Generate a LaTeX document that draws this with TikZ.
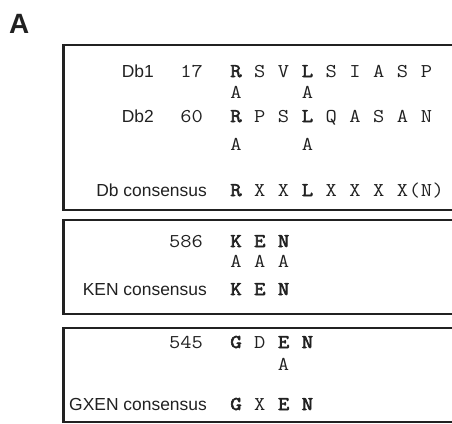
\documentclass[tikz,border=0pt]{standalone}
\usepackage{fontspec}
\setmainfont{Liberation Sans}
\newfontfamily\seqfont{Latin Modern Mono}[FakeStretch=1.12, BoldFont={Latin Modern Mono}, BoldFeatures={FakeBold=3}]
\definecolor{ink}{gray}{0.13}
\begin{document}
\begin{tikzpicture}[x=1bp,y=-1bp,
  lab/.style={font=\fontsize{17.5}{18}\selectfont, text=ink, inner sep=0pt, anchor=base east},
  num/.style={font=\seqfont\fontsize{19.6}{20}\selectfont, text=ink, inner sep=0pt, anchor=base east},
  res/.style={font=\seqfont\fontsize{19.6}{20}\selectfont, text=ink, inner sep=0pt, anchor=base},
  hline/.style={line width=1.8bp, draw=ink},
  vline/.style={line width=2.8bp, draw=ink}]
\useasboundingbox (0,0) rectangle (452,423);
\clip (0,0) rectangle (452,423);

% panel letter
\node[font=\bfseries\fontsize{28}{28}\selectfont, text=ink, inner sep=0pt, anchor=base west] (panel) at (9,33) {A};

% frames (open to the right)
\foreach \t/\b in {45/210, 220/314, 328/422} {
  \draw[hline] (470,\t) -- (63.5,\t);
  \draw[hline] (63.5,\b) -- (470,\b);
  \draw[vline] (63.5,\t-0.9) -- (63.5,\b+0.9);
}

% ---- destruction boxes
\node[lab] (db1) at (154,77) {Db1};
\node[num] (n17) at (203,77) {17};
\foreach \c [count=\k from 0] in {\textbf{R},S,V,\textbf{L},S,I,A,S,P}
  \node[res] (dbA-\k) at ({236+23.8*\k},77) {\c};
\node[res] (dbAm-0) at (236,98) {A};
\node[res] (dbAm-3) at ({236+11.9*6},98) {A};

\node[lab] (db2) at (154,122) {Db2};
\node[num] (n60) at (203,122) {60};
\foreach \c [count=\k from 0] in {\textbf{R},P,S,\textbf{L},Q,A,S,A,N}
  \node[res] (dbB-\k) at ({236+23.8*\k},122) {\c};
\node[res] (dbBm-0) at (236,150) {A};
\node[res] (dbBm-3) at ({236+11.9*6},150) {A};

\node[lab] (dbcons) at (207,196) {Db consensus};
\foreach \c [count=\k from 0] in {\textbf{R},X,X,\textbf{L},X,X,X,X}
  \node[res] (dbC-\k) at ({236+23.8*\k},196) {\c};
\node[res] (dbC-open)  at ({236+11.9*15},196) {(};
\node[res] (dbC-n)     at ({236+11.9*16},196) {N};
\node[res] (dbC-close) at ({236+11.9*17},196) {)};

% ---- KEN box
\node[num] (n586) at (203,247) {586};
\foreach \c [count=\k from 0] in {\textbf{K},\textbf{E},\textbf{N}}
  \node[res] (ken-\k) at ({236+23.8*\k},247) {\c};
\foreach \k in {0,1,2}
  \node[res] (kenm-\k) at ({236+23.8*\k},267) {A};
\node[lab] (kencons) at (207,295) {KEN consensus};
\foreach \c [count=\k from 0] in {\textbf{K},\textbf{E},\textbf{N}}
  \node[res] (kenC-\k) at ({236+23.8*\k},295) {\c};

% ---- GxEN box
\node[num] (n545) at (203,348) {545};
\foreach \c [count=\k from 0] in {\textbf{G},D,\textbf{E},\textbf{N}}
  \node[res] (gxen-\k) at ({236+23.8*\k},348) {\c};
\node[res] (gxenm-2) at ({236+23.8*2},370) {A};
\node[lab] (gxencons) at (207,410) {GXEN consensus};
\foreach \c [count=\k from 0] in {\textbf{G},X,\textbf{E},\textbf{N}}
  \node[res] (gxenC-\k) at ({236+23.8*\k},410) {\c};
\end{tikzpicture}
\end{document}
